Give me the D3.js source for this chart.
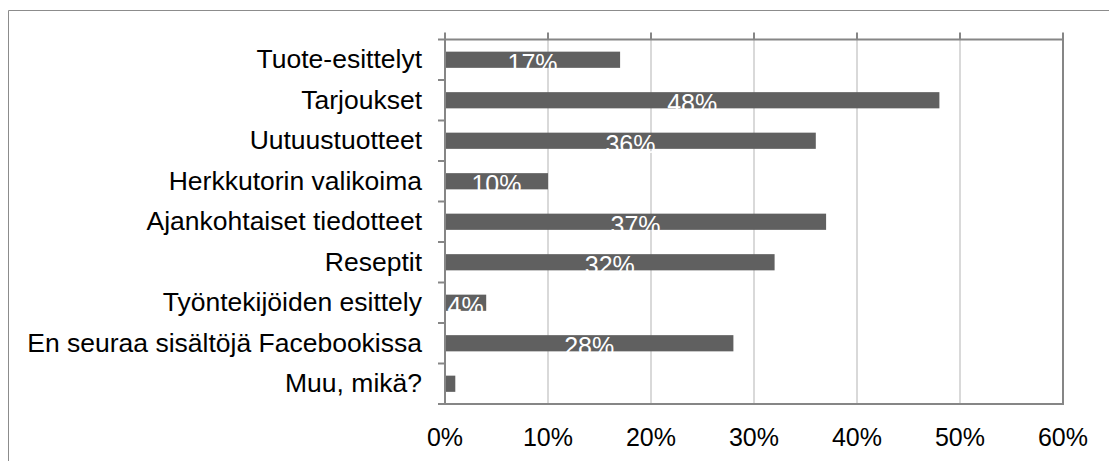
<!DOCTYPE html>
<html>
<head>
<meta charset="utf-8">
<script src="https://cdn.jsdelivr.net/npm/d3@7"></script>
<style>
  body { margin: 0; background: #fff; }
  svg { display: block; font-family: "Liberation Sans", Arial, sans-serif; }
</style>
</head>
<body>
<svg id="chart" width="1109" height="461"></svg>
<script>
// categories and values (percent)
const categories = [
    "Tuote-esittelyt",
    "Tarjoukset",
    "Uutuustuotteet",
    "Herkkutorin valikoima",
    "Ajankohtaiset tiedotteet",
    "Reseptit",
    "Työntekijöiden esittely",
    "En seuraa sisältöjä Facebookissa",
    "Muu, mikä?"
];
const values = [17, 48, 36, 10, 37, 32, 4, 28, 1];
const tickValues = [0, 10, 20, 30, 40, 50, 60];

const data = categories.map((c, i) => ({ label: c, value: values[i] }));

const svg = d3.select("#chart");
const plotLeft = 445, plotRight = 1063, plotTop = 39.5, plotBottom = 404;
const axisColor = "#868686";
const barColor = "#606060";

// outer frame (only top and left visible)
svg.append("path")
    .attr("d", "M8.5,461 V10.5 H1109")
    .attr("fill", "none")
    .attr("stroke", "#8c8c8c")
    .attr("stroke-width", 1);

const xScale = d3.scaleLinear().domain([0, 60]).range([plotLeft, plotRight]);
const yScale = d3.scaleBand()
    .domain(categories)
    .range([plotTop, plotBottom])
    .paddingInner(0.6)
    .paddingOuter(0.3);
const yBands = d3.scaleBand().domain(categories).range([plotTop, plotBottom]);

// gridlines
svg.append("g")
    .selectAll("line")
    .data(tickValues.slice(1, -1))
    .join("line")
    .attr("x1", d => xScale(d))
    .attr("x2", d => xScale(d))
    .attr("y1", plotTop)
    .attr("y2", plotBottom)
    .attr("stroke", "#d9d9d9")
    .attr("stroke-width", 2);

// tick marks sticking up above the top border
svg.append("g")
    .selectAll("line")
    .data(tickValues)
    .join("line")
    .attr("x1", d => xScale(d))
    .attr("x2", d => xScale(d))
    .attr("y1", plotTop - 7)
    .attr("y2", plotTop)
    .attr("stroke", axisColor)
    .attr("stroke-width", 2);

// bars
svg.append("g")
    .selectAll("rect")
    .data(data)
    .join("rect")
    .attr("x", xScale(0))
    .attr("y", d => yScale(d.label))
    .attr("width", d => xScale(d.value) - xScale(0))
    .attr("height", yScale.bandwidth())
    .attr("fill", barColor);

// plot border
svg.append("rect")
    .attr("x", plotLeft)
    .attr("y", plotTop)
    .attr("width", plotRight - plotLeft)
    .attr("height", plotBottom - plotTop)
    .attr("fill", "none")
    .attr("stroke", axisColor)
    .attr("stroke-width", 2);

// category ticks
svg.append("g")
    .selectAll("line")
    .data(categories.map(c => yBands(c)).concat([plotBottom]))
    .join("line")
    .attr("x1", plotLeft - 7)
    .attr("x2", plotLeft)
    .attr("y1", d => d)
    .attr("y2", d => d)
    .attr("stroke", axisColor)
    .attr("stroke-width", 2);

// bar value labels (white, centred on bar)
svg.append("g")
    .selectAll("text")
    .data(data.filter(d => d.value >= 4))
    .join("text")
    .attr("x", d => (xScale(0) + xScale(d.value)) / 2)
    .attr("y", d => yScale(d.label) + yScale.bandwidth() / 2 + 12)
    .attr("text-anchor", "middle")
    .attr("fill", "#fff")
    .attr("font-size", 25)
    .text(d => d.value + "%");

// category labels
svg.append("g")
    .selectAll("text")
    .data(categories)
    .join("text")
    .attr("x", 422)
    .attr("y", d => yBands(d) + yBands.bandwidth() / 2 + 8.5)
    .attr("text-anchor", "end")
    .attr("fill", "#000")
    .attr("font-size", 26.5)
    .text(d => d);

// x tick labels
svg.append("g")
    .selectAll("text")
    .data(tickValues)
    .join("text")
    .attr("x", d => xScale(d))
    .attr("y", 446)
    .attr("text-anchor", "middle")
    .attr("fill", "#000")
    .attr("font-size", 25)
    .text(d => d + "%");
</script>
</body>
</html>
